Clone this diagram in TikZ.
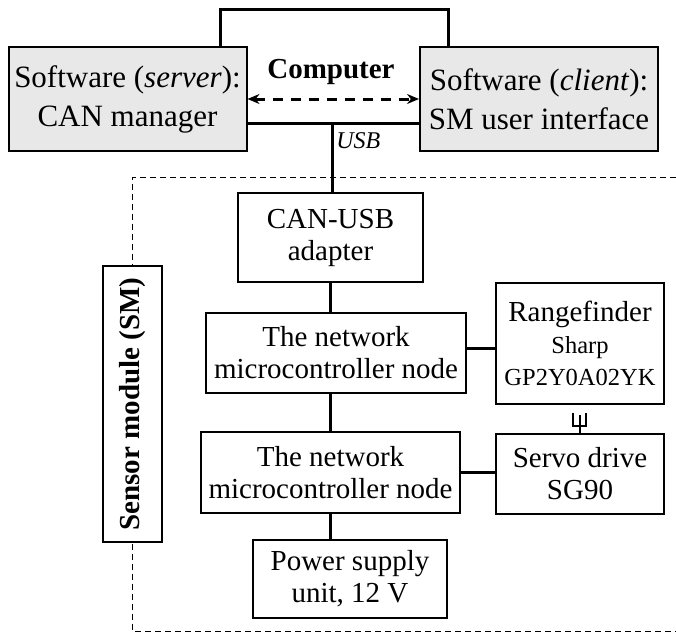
\documentclass[tikz,border=0pt]{standalone}
\usepackage{fontspec}
\setmainfont{Liberation Serif}
\usetikzlibrary{arrows.meta}

\begin{document}
\begin{tikzpicture}[x=0.5pt, y=-0.5pt,
    blk/.style={draw, line width=1pt, align=center, inner sep=0pt,
        font=\fontsize{14.5}{16}\selectfont},
    soft/.style={blk, fill=LightGray, font=\fontsize{15.5}{19.5}\selectfont,
        minimum width=119pt, minimum height=52pt},
    wire/.style={line width=1.5pt}]
    \definecolor{LightGray}{HTML}{E8E8E8}
    \useasboundingbox (0,0) rectangle (676,633);

    \node[soft] (server) at (127.5,99) {Software (\textit{server}):\\CAN manager};
    \node[soft] (client) at (539,99) {Software (\textit{client}):\\SM user interface};
    \node[font=\fontsize{14.5}{16}\selectfont\bfseries] (comp) at (331,72) {Computer};

    \coordinate (loopL) at (220,9);
    \coordinate (loopR) at (448,9);
    \draw[wire] (loopL |- server.north) -- (loopL) -- (loopR) -- (loopR |- client.north);
    \draw[wire, dash pattern=on 5pt off 4pt, {Stealth[length=6pt,width=5pt]}-{Stealth[length=6pt,width=5pt]}]
        (server.east) -- (client.west);

    \draw[line width=0.5pt, dash pattern=on 3pt off 2pt]
        (676,177) -- (132.5,177) -- (132.5,631) -- (676,631);
    \node[blk, fill=white, rotate=90, minimum width=138pt, minimum height=29.5pt,
        font=\fontsize{14.5}{16}\selectfont\bfseries] (sm) at (132.5,404) {Sensor module (SM)};

    \node[blk, minimum width=92.5pt, minimum height=44.5pt] (canusb) at (330.5,237.5) {CAN-USB\\adapter};
    \node[blk, minimum width=130pt, minimum height=40pt] (mcu1) at (336,353) {The network\\microcontroller node};
    \node[blk, minimum width=84pt, minimum height=60.5pt] (ranger) at (580,343.5)
        {Rangefinder\\{\fontsize{12.25}{15}\selectfont Sharp}\\{\fontsize{12.25}{15}\selectfont GP2Y0A02YK}};
    \node[blk, minimum width=129.5pt, minimum height=40.5pt] (mcu2) at (330.5,472.5) {The network\\microcontroller node};
    \node[blk, minimum width=84pt, minimum height=40pt] (servo) at (580,473.5) {Servo drive\\SG90};
    \node[blk, minimum width=97pt, minimum height=39pt] (power) at (350,579) {Power supply\\unit, 12 V};

    \coordinate (usb) at (332,123);
    \draw[wire] (usb -| server.east) -- (usb -| client.west);
    \draw[wire] (usb) -- (usb |- canusb.north);
    \node[anchor=west, inner sep=1pt, font=\fontsize{12}{14}\selectfont\itshape] (usblbl) at (334,141) {USB};

    \draw[wire] (canusb.south) -- (canusb.south |- mcu1.north);
    \draw[wire] (mcu2.north |- mcu1.south) -- (mcu2.north);
    \draw[wire] (mcu2.south) -- (mcu2.south |- power.north);
    \coordinate (link1) at ([yshift=2.5pt]mcu1.east);
    \draw[wire] (link1) -- (link1 -| ranger.west);
    \draw[wire] (mcu2.east) -- (mcu2.east -| servo.west);

    \coordinate (shaft) at (580,415);
    \draw[line width=1.2pt] (573,413) -- (573,426) -- (586,426) -- (586,413);
    \draw[line width=1.2pt] (shaft) -- (shaft |- servo.north);
\end{tikzpicture}
\end{document}
